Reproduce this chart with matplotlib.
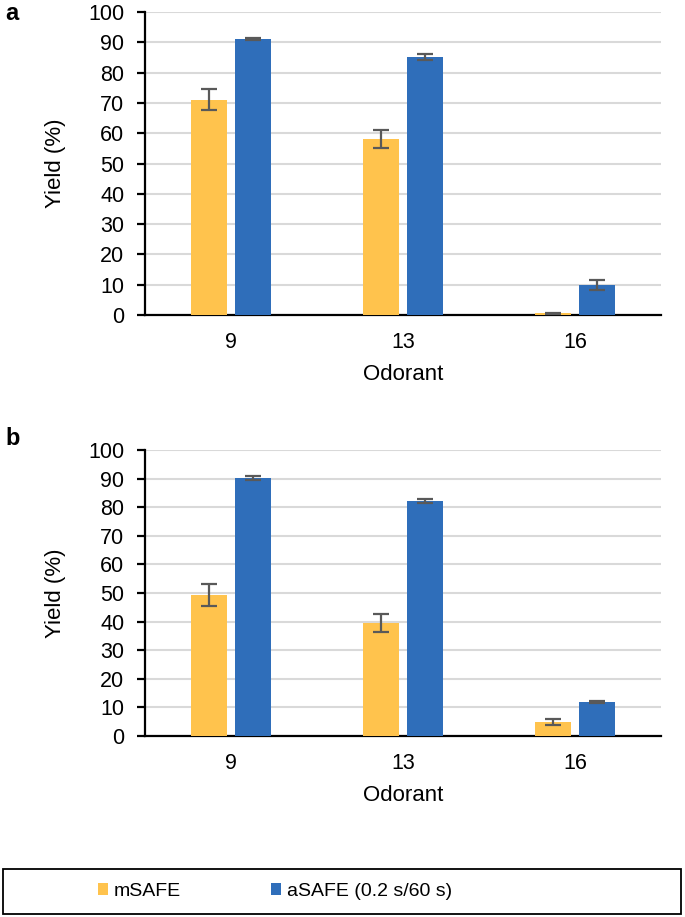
import matplotlib
matplotlib.use("Agg")
import matplotlib.pyplot as plt
import numpy as np
from matplotlib.patches import Rectangle, Patch

plt.rcParams['font.family'] = ['Liberation Sans', 'DejaVu Sans']

categories = ["9", "13", "16"]
series_names = ["mSAFE", "aSAFE (0.2 s/60 s)"]
colors = ["#FFC34D", "#2F6EBA"]

a_msafe = [71.1, 58.1, 0.5]
a_msafe_err = [3.5, 3.1, 0.3]
a_asafe = [91.0, 85.1, 10.0]
a_asafe_err = [0.3, 1.1, 1.6]

b_msafe = [49.2, 39.5, 4.9]
b_msafe_err = [3.9, 3.3, 1.2]
b_asafe = [90.1, 82.1, 11.8]
b_asafe_err = [0.7, 0.6, 0.4]

W, H = 685, 917
fig = plt.figure(figsize=(W/100, H/100), dpi=100)

def make_axes(rect, vals1, err1, vals2, err2, letter):
    ax = fig.add_axes(rect)
    x = np.arange(len(categories))
    bw = 0.212
    off = 0.128
    ekw = dict(ecolor="#595959", elinewidth=1.6, capthick=1.6)
    ax.bar(x - off, vals1, bw, yerr=err1, color=colors[0], capsize=6, error_kw=ekw, zorder=3)
    ax.bar(x + off, vals2, bw, yerr=err2, color=colors[1], capsize=6, error_kw=ekw, zorder=3)
    ax.set_xlim(-0.5, 2.5)
    ax.set_ylim(0, 100)
    ax.set_yticks(range(0, 101, 10))
    ax.set_xticks(x)
    ax.set_xticklabels(categories)
    ax.yaxis.grid(True, color="#D9D9D9", linewidth=1.5, zorder=0)
    ax.set_axisbelow(True)
    for s in ["top", "right"]:
        ax.spines[s].set_visible(False)
    for s in ["left", "bottom"]:
        ax.spines[s].set_linewidth(1.6)
        ax.spines[s].set_color("black")
    ax.tick_params(axis="y", length=6, width=1.6, pad=9, labelsize=15.5)
    ax.tick_params(axis="x", length=0, pad=12, labelsize=15.5)
    ax.set_xlabel("Odorant", fontsize=16, labelpad=8)
    ax.set_ylabel("Yield (%)", fontsize=16, labelpad=16)
    fig.text(5/W, 1 - 14/H if letter == "a" else 1 - 438/H, letter,
             fontsize=17, fontweight="bold", va="center", ha="left")
    return ax

left = 145/W
width = (661-145)/W
make_axes([left, 1-315/H, width, (315-12)/H], a_msafe, a_msafe_err, a_asafe, a_asafe_err, "a")
make_axes([left, 1-736/H, width, (736-450)/H], b_msafe, b_msafe_err, b_asafe, b_asafe_err, "b")

# legend frame
fig.patches.append(Rectangle((3/W, 1-914/H), (681-3)/W, (914-869)/H,
                             transform=fig.transFigure, fill=False,
                             edgecolor="black", linewidth=1.3))
handles = [Patch(facecolor=c, edgecolor="none") for c in colors]
fig.legend(handles, series_names, loc="center left",
           bbox_to_anchor=(80/W, 1-891.5/H), ncol=2, frameon=False,
           fontsize=14, handlelength=0.55, handleheight=0.55,
           handletextpad=0.3, columnspacing=4.6)

fig.savefig("out.png", dpi=100)
